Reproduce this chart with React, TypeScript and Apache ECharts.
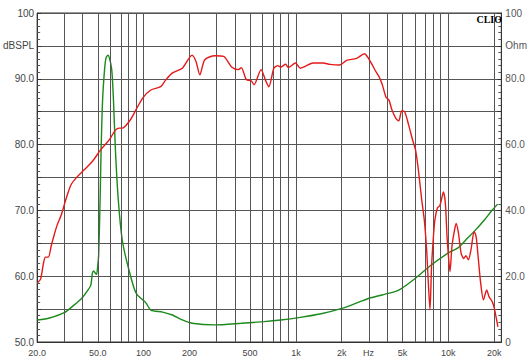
import React, { useEffect, useRef } from "react";
import * as echarts from "echarts";

// Frequency response (dBSPL, left axis)
const splFreq = [20.1, 21.1, 22.1, 22.7, 23.7, 24.8, 25.9, 27.1, 28.8, 30.1, 31.5, 33.4, 36.0, 39.3, 43.0, 47.0, 52.2, 57.0, 60.6, 65.3, 69.2, 72.4, 81.5, 89.1, 98.9, 111.5, 129.4, 139.4, 154.7, 179.4, 208, 221, 234, 252, 293, 335, 378, 419, 438, 472, 508, 531, 590, 636, 664, 716, 759, 794, 855, 893, 993, 1069, 1151, 1297, 1506, 1671, 1937, 2152, 2500, 2813, 3120, 3310, 3516, 3690, 3900, 4075, 4265, 4529, 4733, 4945, 5172, 5492, 5833, 6096, 6369, 6695, 6964, 7211, 7396, 7586, 7765, 7960, 8164, 8490, 8790, 9014, 9288, 9570, 9816, 10070, 10260, 10570, 10890, 11270, 11670, 12140, 12620, 13070, 13550, 14090, 14790, 15240, 15770, 16330, 17020, 17870, 18510, 19450, 20030, 21180];
const splValues = [59.0, 59.6, 62.2, 62.9, 62.9, 64.7, 66.3, 67.8, 69.3, 70.8, 72.3, 73.9, 74.9, 75.8, 76.7, 77.7, 79.2, 80.2, 81.0, 82.2, 82.5, 82.5, 83.7, 85.3, 87.1, 88.3, 88.8, 89.8, 90.9, 91.6, 93.6, 92.6, 90.6, 92.9, 93.5, 93.4, 91.8, 91.4, 91.7, 89.9, 89.7, 89.1, 91.4, 89.6, 88.8, 91.6, 92.0, 91.8, 92.2, 91.7, 92.4, 91.6, 91.9, 92.4, 92.4, 92.2, 92.1, 92.8, 93.1, 93.8, 92.4, 91.3, 90.3, 89.1, 87.2, 86.8, 85.3, 84.0, 83.6, 85.1, 85.0, 83.0, 80.7, 79.2, 76.1, 71.6, 68.5, 64.0, 59.0, 54.9, 61.4, 65.5, 68.5, 70.4, 70.7, 71.6, 72.8, 71.1, 66.0, 62.5, 60.7, 64.5, 66.5, 68.0, 66.5, 63.5, 62.7, 63.1, 62.5, 64.0, 66.8, 66.0, 62.5, 58.9, 56.4, 57.9, 56.9, 56.1, 55.2, 52.3];

// Impedance (Ohm, right axis)
const impFreq = [20.1, 24.1, 30.1, 34.9, 39.3, 42.4, 45.0, 46.1, 47.0, 48.2, 49.2, 49.9, 50.7, 51.8, 52.6, 53.8, 55.4, 56.6, 58.2, 59.7, 61.8, 63.4, 65.3, 68.2, 72.4, 79.2, 89.1, 103.5, 111.5, 133.3, 154.7, 179.4, 208, 293, 438, 617, 794, 1069, 1439, 2000, 2613, 3030, 3673, 4733, 6096, 7731, 9955, 11570, 13400, 14860, 17260, 19450, 21090];
const impValues = [6.7, 7.3, 8.9, 11.2, 13.3, 15.3, 17.3, 20.9, 21.6, 20.9, 20.6, 22.9, 26.4, 43.2, 58.4, 73.6, 82.7, 86.3, 87.2, 86.3, 82.7, 73.6, 58.4, 43.2, 31.0, 22.8, 14.9, 11.9, 9.7, 9.1, 8.2, 6.7, 5.7, 5.2, 5.7, 6.2, 6.7, 7.5, 8.5, 10.2, 12.2, 13.3, 14.3, 15.8, 19.4, 23.4, 27.0, 28.6, 31.6, 33.7, 37.1, 40.1, 41.9];

// Axes
const freqMin = 20;
const freqMax = 22300;
const gridFreqs = [30, 40, 50, 60, 70, 80, 90, 100, 200, 300, 400, 500, 600, 700, 800, 900, 1000, 2000, 3000, 4000, 5000, 6000, 7000, 8000, 9000, 10000, 20000];
const xTickFreqs = [20, 50, 100, 200, 500, 1000, 2000, 3000, 5000, 10000, 20000];
const xTickLabels = ["20.0", "50.0", "100", "200", "500", "1k", "2k", "Hz", "5k", "10k", "20k"];
const leftTickValues = [100, 95, 90, 80, 70, 60, 50];
const leftTickLabels = ["100", "dBSPL", "90.0", "80.0", "70.0", "60.0", "50.0"];
const rightTickValues = [100, 90, 80, 60, 40, 20, 0];
const rightTickLabels = ["100", "Ohm", "80.0", "60.0", "40.0", "20.0", "0"];

const FONT = "Arial, 'Liberation Sans', sans-serif";

export default function App() {
  const ref = useRef<HTMLDivElement>(null);
  useEffect(() => {
    if (!ref.current) return;
    const chart = echarts.init(ref.current, null, { renderer: "svg" });
    const lg = (f: number) => Math.log10(f);
    const xCustom = xTickFreqs.map(lg);
    const option: any = {
      animation: false,
      backgroundColor: "#ffffff",
      grid: {
        left: 32,
        right: 26,
        top: 13,
        bottom: 22,
        show: true,
        borderColor: "#333333",
        borderWidth: 1,
        backgroundColor: "#ffffff",
      },
      graphic: [
        {
          type: "text",
          right: 28,
          top: 14,
          z: 100,
          style: {
            text: "CLIO",
            font: "bold 10px 'Liberation Serif', 'DejaVu Serif', serif",
            fill: "#000000",
          },
        },
      ],
      xAxis: {
        type: "value",
        min: lg(freqMin),
        max: lg(freqMax),
        axisLine: { show: true, lineStyle: { color: "#333333", width: 1 } },
        axisTick: { show: false },
        splitLine: { show: false },
        axisLabel: {
          customValues: xCustom,
          margin: 6,
          fontSize: 9,
          fontFamily: FONT,
          color: "#444444",
          showMinLabel: true,
          showMaxLabel: true,
          formatter: (v: number) => {
            const i = xCustom.findIndex((c) => Math.abs(c - v) < 1e-6);
            return i >= 0 ? xTickLabels[i] : "";
          },
        },
      },
      yAxis: [
        {
          type: "value",
          min: 50,
          max: 100,
          interval: 5,
          position: "left",
          axisLine: { show: true, lineStyle: { color: "#333333", width: 1 } },
          axisTick: { show: true, inside: true, length: 4, lineStyle: { color: "#333333" } },
          minorTick: { show: true, splitNumber: 5, length: 3, lineStyle: { color: "#555555" } },
          splitLine: { show: true, lineStyle: { color: "#555555", width: 1 } },
          axisLabel: {
            margin: 3,
            fontSize: 10,
            fontFamily: FONT,
            color: "#444444",
            formatter: (v: number) => {
              const i = leftTickValues.indexOf(Math.round(v));
              return i >= 0 ? leftTickLabels[i] : "";
            },
          },
        },
        {
          type: "value",
          min: 0,
          max: 100,
          interval: 10,
          position: "right",
          axisLine: { show: true, lineStyle: { color: "#333333", width: 1 } },
          axisTick: { show: true, inside: true, length: 4, lineStyle: { color: "#333333" } },
          minorTick: { show: true, splitNumber: 5, length: 3, lineStyle: { color: "#555555" } },
          splitLine: { show: false },
          axisLabel: {
            margin: 4,
            fontSize: 10,
            fontFamily: FONT,
            color: "#555555",
            formatter: (v: number) => {
              const i = rightTickValues.indexOf(Math.round(v));
              return i >= 0 ? rightTickLabels[i] : "";
            },
          },
        },
      ],
      series: [
        {
          type: "line",
          name: "grid",
          data: [],
          z: 1,
          silent: true,
          markLine: {
            silent: true,
            symbol: ["none", "none"],
            label: { show: false },
            lineStyle: { color: "#555555", width: 1, type: "solid" },
            data: gridFreqs.map((f) => ({ xAxis: lg(f) })),
          },
        },
        {
          type: "line",
          name: "SPL",
          yAxisIndex: 0,
          z: 5,
          showSymbol: false,
          smooth: 0.25,
          lineStyle: { color: "#e41a1a", width: 1.4 },
          data: splFreq.map((f, i) => [lg(f), splValues[i]]),
        },
        {
          type: "line",
          name: "Impedance",
          yAxisIndex: 1,
          z: 4,
          showSymbol: false,
          smooth: 0.25,
          lineStyle: { color: "#1a8a1a", width: 1.4 },
          data: impFreq.map((f, i) => [lg(f), impValues[i]]),
        },
      ],
    };
    chart.setOption(option);
    return () => chart.dispose();
  }, []);
  return (
    <div
      ref={ref}
      style={{ position: "fixed", left: 0, top: 0, width: 530, height: 364, background: "#fff" }}
    />
  );
}
